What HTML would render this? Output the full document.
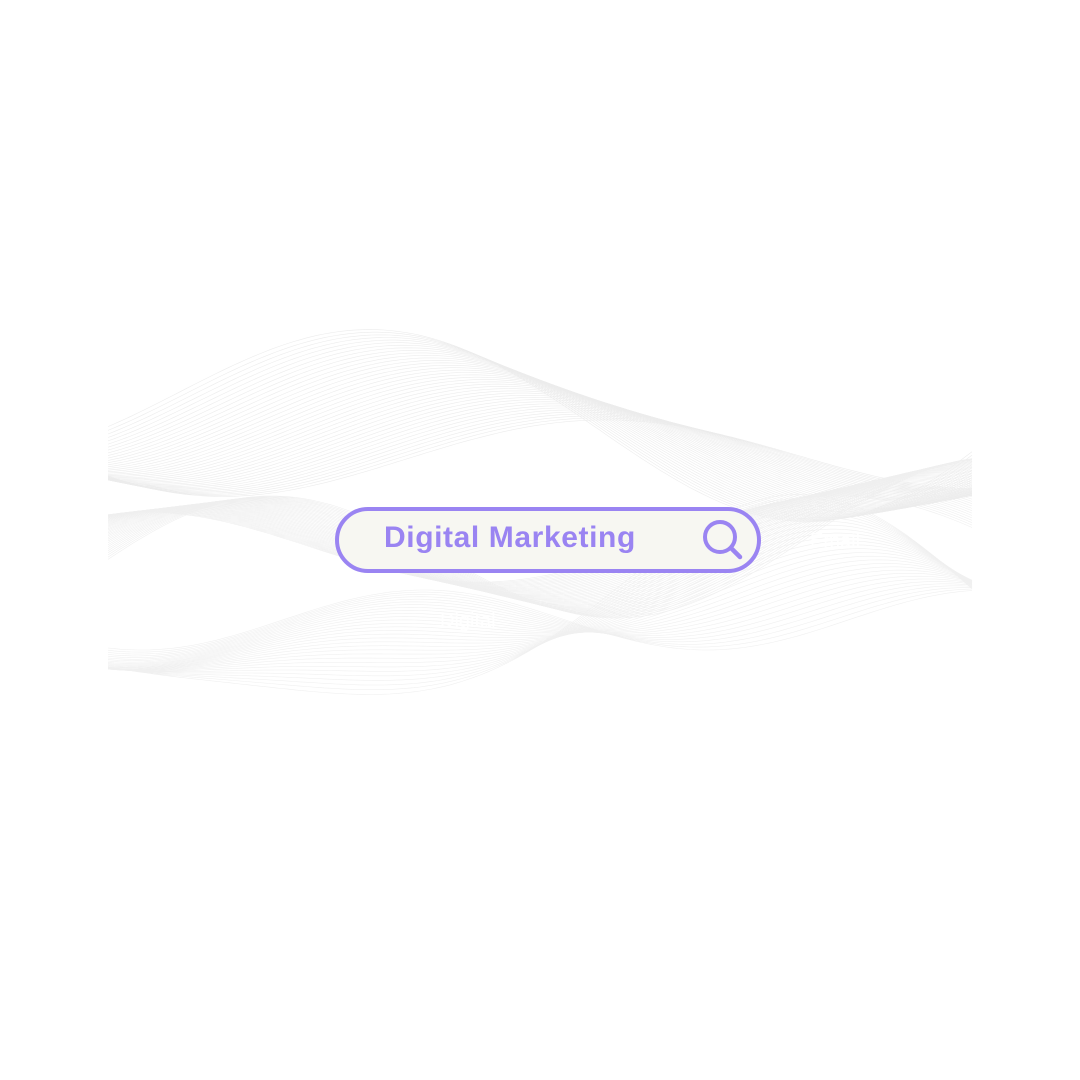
<!DOCTYPE html>
<html><head><meta charset="utf-8"><style>
html,body{margin:0;padding:0;background:#fff;width:1080px;height:1080px;overflow:hidden}
.bar{position:absolute;left:335px;top:507px;width:418px;height:58px;border:4px solid #9a84f2;border-radius:33px;background:#f7f7f2}
.t{position:absolute;left:384px;top:521px;font:bold 30px "Liberation Sans",sans-serif;color:#9a84f2;letter-spacing:0.6px}
.w{position:absolute;font:20px "Liberation Sans",sans-serif;color:#fff}
</style></head><body>
<svg id="s" width="1080" height="1080" style="position:absolute;left:0;top:0"></svg>
<div class="w" style="left:200px;top:530px">SEM</div>
<div class="w" style="left:440px;top:610px">Digital</div>
<div class="w" style="left:810px;top:530px">Email</div>
<div class="bar"></div>
<div class="t">Digital Marketing</div>
<svg width="50" height="50" style="position:absolute;left:700px;top:516px" viewBox="0 0 50 50">
<circle cx="20" cy="21" r="15" fill="none" stroke="#9a84f2" stroke-width="4"/>
<line x1="31" y1="32" x2="40" y2="41" stroke="#9a84f2" stroke-width="4.5" stroke-linecap="round"/>
</svg>
<script>
var s=document.getElementById('s'),h='';
function fam(f,n,col){for(var k=0;k<n;k++){var d='';for(var x=108;x<=972;x+=6){var y=f(x,k/n);d+=(x==108?'M':'L')+x+' '+y.toFixed(1);}h+='<path d="'+d+'" fill="none" stroke="'+col+'" stroke-width="0.6"/>';}}
fam(function(x,t){return 420+ (60+40*t)*Math.sin((x-108)/140+1.2+t*1.5)-40*t+60*Math.sin((x-108)/300);},40,'#ececec');
fam(function(x,t){return 560+(80-30*t)*Math.sin((x-108)/120+3.5+t*1.2)+30*Math.cos((x)/260+t);},40,'#efefef');
fam(function(x,t){return 620+(100*t)*Math.sin((x-108)/160+0.5)+30*Math.sin(x/90+t*2);},30,'#f0f0f0');
s.innerHTML=h;
</script>
</body></html>
